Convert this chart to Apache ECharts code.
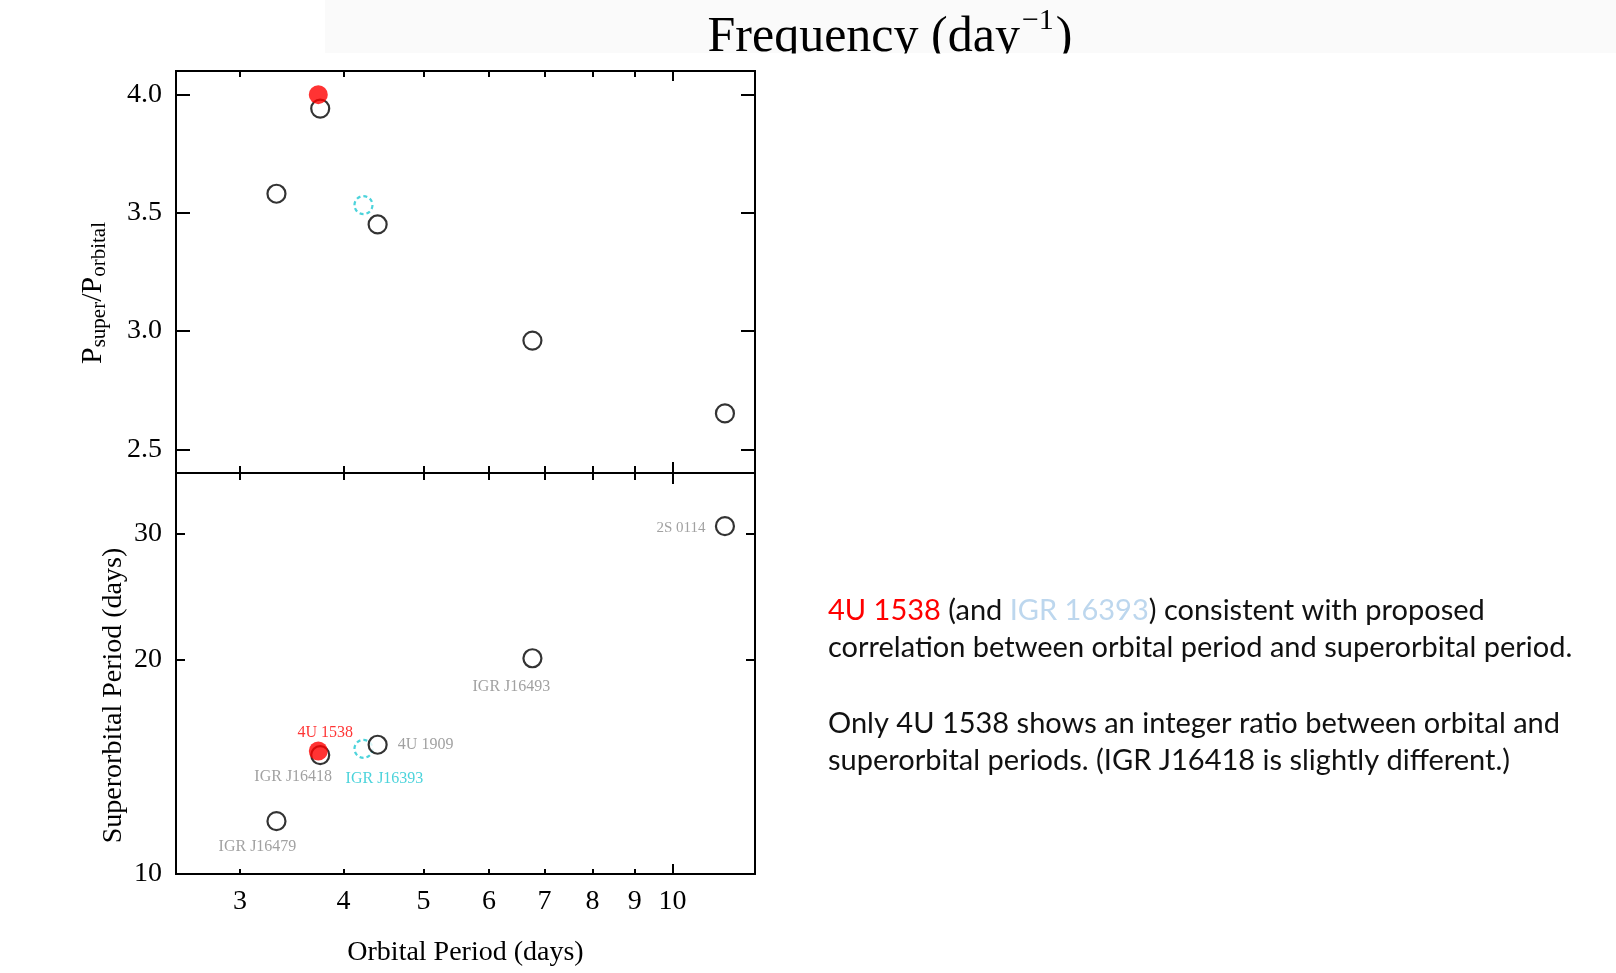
<!DOCTYPE html>
<html><head><meta charset="utf-8">
<script src="https://cdn.jsdelivr.net/npm/echarts@6/dist/echarts.min.js"></script>
<style>html,body{margin:0;padding:0;background:#fff}#c{width:1616px;height:973px}</style>
</head><body><div id="c"></div>
<script>
// ---- data ----
const sourceNames = ['IGR J16479', 'IGR J16418', '4U 1538', 'IGR J16393', '4U 1909', 'IGR J16493', '2S 0114'];
const orbitalPeriod = [3.32, 3.75, 3.73, 4.23, 4.40, 6.77, 11.57];          // days
const superorbitalPeriod = [11.86, 14.68, 14.88, 14.98, 15.18, 20.07, 30.74]; // days
const periodRatio = [3.581, 3.941, 4.0, 3.533, 3.451, 2.960, 2.652];        // Psuper/Porbital
const sourceGroup = ['other', 'other', '4U 1538', 'IGR J16393', 'other', 'other', 'other'];
const xTickLabels = [3, 4, 5, 6, 7, 8, 9, 10];
const xMinorTicks = [3, 4, 5, 6, 7, 8, 9];
const xMajorTicks = [10];
const ratioTicks = [2.5, 3.0, 3.5, 4.0];
const superTickLabels = [10, 20, 30];
const superTicks = [20, 30];
const titleText = ['Frequency (day', '\u22121', ')'];
const noteLines = [
  [['r', '4U 1538'], ['k', ' (and '], ['b', 'IGR 16393'], ['k', ') consistent with proposed']],
  [['k', 'correlation between orbital period and superorbital period.']],
  [['k', 'Only 4U 1538 shows an integer ratio between orbital and']],
  [['k', 'superorbital periods. (IGR J16418 is slightly different.)']]
];

// ---- styles ----
const SERIF = '"Liberation Serif", "Times New Roman", serif';
const GREY = '#8a8a8a';
const CYAN = '#1fc8d2';
const RED = '#ff0000';
const labelStyle = {
  'IGR J16479': { offset: [-19, 26] },
  'IGR J16418': { offset: [-27, 22] },
  '4U 1538': { offset: [7, -18], color: RED },
  'IGR J16393': { offset: [21, 30], color: CYAN },
  '4U 1909': { offset: [48, 0] },
  'IGR J16493': { offset: [-21, 29] },
  '2S 0114': { offset: [-44, 2], fontSize: 15 }
};
const groupStyle = {
  'other': { symbolSize: 18, itemStyle: { color: '#fff', borderColor: '#000', borderWidth: 2.2 }, z: 3 },
  'IGR J16393': { symbolSize: 18, itemStyle: { color: 'rgba(0,0,0,0)', borderColor: CYAN, borderWidth: 2.2, borderType: [4, 3] }, z: 2 },
  '4U 1538': { symbolSize: 19, itemStyle: { color: RED, borderWidth: 0 }, z: 4 }
};

function points(group, yArr, withLabels) {
  const out = [];
  sourceNames.forEach((n, i) => {
    if (sourceGroup[i] !== group) return;
    const item = { name: n, value: [orbitalPeriod[i], yArr[i]] };
    if (withLabels) {
      const ls = labelStyle[n];
      item.label = {
        show: true, position: 'inside', offset: ls.offset, formatter: n,
        color: ls.color || GREY, fontFamily: SERIF, fontSize: ls.fontSize || 16
      };
    }
    out.push(item);
  });
  return out;
}

function xAxis(grid, position, ticks, len, labels, extra) {
  return Object.assign({
    type: 'log', logBase: 10, gridIndex: grid, position: position, min: 2.51, max: 12.58,
    axisLine: { show: true, onZero: false, lineStyle: { color: '#000', width: 2 } },
    axisTick: { show: true, inside: true, length: len, customValues: ticks, lineStyle: { color: '#000', width: 2 } },
    axisLabel: labels ? { show: true, customValues: xTickLabels, color: '#000', fontFamily: SERIF, fontSize: 28, margin: 14 } : { show: false },
    splitLine: { show: false }, minorTick: { show: false }, minorSplitLine: { show: false }
  }, extra || {});
}

const xAxes = [
  xAxis(0, 'bottom', xMinorTicks, 7, false),
  xAxis(0, 'bottom', xMajorTicks, 11, false),
  xAxis(0, 'top', xMinorTicks, 6, false),
  xAxis(0, 'top', xMajorTicks, 10, false),
  xAxis(1, 'bottom', xMinorTicks, 5, true, {
    name: 'Orbital Period (days)', nameLocation: 'middle', nameGap: 65,
    nameTextStyle: { color: '#000', fontFamily: SERIF, fontSize: 28 }
  }),
  xAxis(1, 'bottom', xMajorTicks, 10, false),
  xAxis(1, 'top', xMinorTicks, 7, false),
  xAxis(1, 'top', xMajorTicks, 11, false)
];

const yCommon = (len, ticks) => ({
  axisLine: { show: true, onZero: false, lineStyle: { color: '#000', width: 2 } },
  axisTick: { show: true, inside: true, length: len, customValues: ticks, lineStyle: { color: '#000', width: 2 } },
  splitLine: { show: false }, minorTick: { show: false }
});

const yAxes = [
  Object.assign({
    type: 'value', gridIndex: 0, position: 'left', min: 2.4, max: 4.1,
    axisLabel: { show: true, customValues: ratioTicks, formatter: v => Number(v).toFixed(1), color: '#000', fontFamily: SERIF, fontSize: 28, margin: 14 },
    name: '{p|P}{s|super}{p|/P}{s|orbital}', nameLocation: 'middle', nameRotate: 90, nameGap: 66,
    nameTextStyle: {
      fontFamily: SERIF, color: '#000', padding: [0, 42, 0, 0],
      rich: {
        p: { fontFamily: SERIF, fontSize: 30, color: '#000', lineHeight: 32, verticalAlign: 'top', padding: [0, 0, 11, 0] },
        s: { fontFamily: SERIF, fontSize: 21, color: '#000', lineHeight: 22, verticalAlign: 'bottom' }
      }
    }
  }, yCommon(14, ratioTicks)),
  Object.assign({
    type: 'value', gridIndex: 0, position: 'right', min: 2.4, max: 4.1, axisLabel: { show: false }
  }, yCommon(14, ratioTicks)),
  Object.assign({
    type: 'log', logBase: 10, gridIndex: 1, position: 'left', min: 10, max: 36.5,
    axisLabel: { show: true, customValues: superTickLabels, color: '#000', fontFamily: SERIF, fontSize: 28, margin: 14 },
    name: 'Superorbital Period (days)', nameLocation: 'middle', nameRotate: 90, nameGap: 48,
    nameTextStyle: { color: '#000', fontFamily: SERIF, fontSize: 28, padding: [0, 44, 0, 0] }
  }, yCommon(9, superTicks)),
  Object.assign({
    type: 'log', logBase: 10, gridIndex: 1, position: 'right', min: 10, max: 36.5, axisLabel: { show: false }
  }, yCommon(9, superTicks))
];

const series = [];
['IGR J16393', 'other', '4U 1538'].forEach(g => {
  const gs = groupStyle[g];
  series.push({
    type: 'scatter', xAxisIndex: 0, yAxisIndex: 0, symbol: 'circle', symbolSize: gs.symbolSize,
    itemStyle: gs.itemStyle, z: gs.z, data: points(g, periodRatio, false), emphasis: { disabled: true }
  });
  series.push({
    type: 'scatter', xAxisIndex: 4, yAxisIndex: 2, symbol: 'circle', symbolSize: gs.symbolSize,
    itemStyle: gs.itemStyle, z: gs.z, data: points(g, superorbitalPeriod, true), emphasis: { disabled: true }
  });
});

const NOTE_FONT = { fontFamily: 'Lato', fontSize: 29 };
const noteRich = {
  r: Object.assign({ fill: RED }, NOTE_FONT),
  b: Object.assign({ fill: '#bdd7ee' }, NOTE_FONT),
  k: Object.assign({ fill: '#111' }, NOTE_FONT)
};
const noteY = [611, 648, 723.5, 760.5];
const graphics = [
  { type: 'rect', silent: true, z: -10, shape: { x: 325, y: 0, width: 1291, height: 53 }, style: { fill: '#fafafa' } },
  {
    type: 'text', silent: true, z: 10, style: {
      x: 890, y: 63, align: 'center', verticalAlign: 'bottom',
      text: '{m|' + titleText[0] + '}{s|' + titleText[1] + '}{m|' + titleText[2] + '}',
      rich: {
        m: { fontFamily: SERIF, fontSize: 50, fill: '#000', lineHeight: 57, verticalAlign: 'bottom' },
        s: { fontFamily: SERIF, fontSize: 30, fill: '#000', lineHeight: 28, verticalAlign: 'top', padding: [0, 2, 0, 2] }
      }
    }
  },
  { type: 'rect', silent: true, z: 11, shape: { x: 640, y: 53.5, width: 520, height: 16.5 }, style: { fill: '#fff' } }
];
noteLines.forEach((line, i) => {
  graphics.push({
    type: 'text', silent: true, z: 10, style: {
      x: 828, y: noteY[i], verticalAlign: 'middle', align: 'left',
      text: line.map(t => '{' + t[0] + '|' + t[1] + '}').join(''), rich: noteRich
    }
  });
});

const chart = echarts.init(document.getElementById('c'), null, { renderer: 'canvas' });
chart.setOption({
  animation: false,
  backgroundColor: '#fff',
  grid: [
    { left: 176, top: 71, width: 579, height: 402, containLabel: false },
    { left: 176, top: 473, width: 579, height: 401, containLabel: false }
  ],
  xAxis: xAxes,
  yAxis: yAxes,
  series: series,
  graphic: graphics
});
</script></body></html>
